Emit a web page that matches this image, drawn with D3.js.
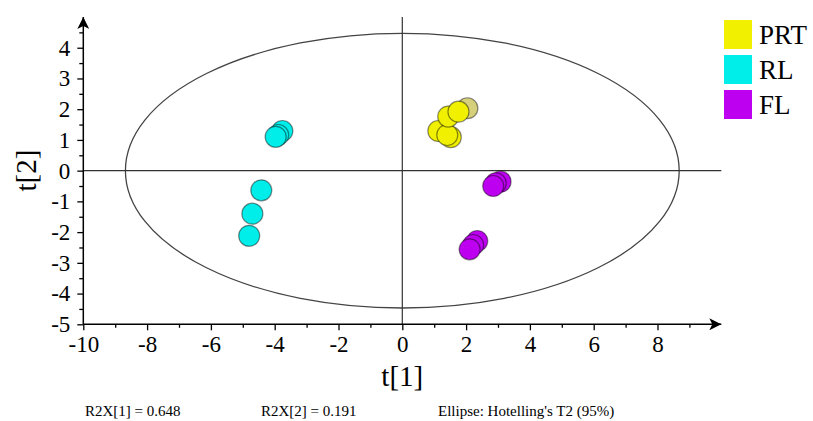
<!DOCTYPE html>
<html>
<head>
<meta charset="utf-8">
<script src="https://cdn.jsdelivr.net/npm/d3@7/dist/d3.min.js"></script>
<style>
  html, body { margin: 0; padding: 0; background: #fff; }
  svg text { font-family: "Liberation Serif", "Times New Roman", Times, "DejaVu Serif", serif !important; }
</style>
</head>
<body>
<svg id="chart" width="813" height="421"></svg>
<script>
// ---- data ----
const seriesNames = ["PRT", "RL", "FL"];
const seriesColors = ["#f0f000", "#00eeea", "#bd00f0"];

const prtX = [1.52, 1.13, 1.41, 1.44, 1.76];
const prtY = [1.09, 1.29, 1.16, 1.76, 1.92];
const prtFadedX = [2.04];
const prtFadedY = [2.03];

const rlX = [-4.42, -4.70, -4.80, -3.76, -3.89, -3.97];
const rlY = [-0.64, -1.40, -2.12, 1.29, 1.16, 1.10];

const flX = [3.08, 2.93, 2.85, 2.35, 2.22, 2.11];
const flY = [-0.36, -0.41, -0.50, -2.29, -2.42, -2.56];

const xTicks = [-10, -8, -6, -4, -2, 0, 2, 4, 6, 8];
const xMinorTicks = [-9, -7, -5, -3, -1, 1, 3, 5, 7, 9];
const yTicks = [-5, -4, -3, -2, -1, 0, 1, 2, 3, 4];
const yMinorTicks = [-4.5, -3.5, -2.5, -1.5, -0.5, 0.5, 1.5, 2.5, 3.5, 4.5];

const ellipseRx = 8.68;   // Hotelling's T2 (95%) semi-axes
const ellipseRy = 4.47;

const footnotes = ["R2X[1] = 0.648", "R2X[2] = 0.191", "Ellipse: Hotelling's T2 (95%)"];

// ---- chart ----
const FONT = "'Liberation Serif', 'Times New Roman', Times, 'DejaVu Serif', serif";
const svg = d3.select("#chart");
const x = d3.scaleLinear().domain([-10, 10]).range([83.3, 721.3]);
const y = d3.scaleLinear().domain([-5, 5]).range([324.3, 17]);

// ellipse
svg.append("ellipse")
  .attr("cx", x(0)).attr("cy", y(0))
  .attr("rx", x(ellipseRx) - x(0))
  .attr("ry", y(0) - y(ellipseRy))
  .attr("fill", "none").attr("stroke", "#444").attr("stroke-width", 1.3);

// zero lines
svg.append("line").attr("x1", x(-10)).attr("x2", x(10)).attr("y1", y(0)).attr("y2", y(0))
  .attr("stroke", "#333").attr("stroke-width", 1.2);
svg.append("line").attr("x1", x(0)).attr("x2", x(0)).attr("y1", y(5)).attr("y2", y(-5))
  .attr("stroke", "#333").attr("stroke-width", 1.2);

// axes
const xAxis = svg.append("g").attr("transform", `translate(0,${y(-5)})`)
  .call(d3.axisBottom(x).tickValues(xTicks).tickSize(6).tickPadding(5).tickFormat(d3.format("d")));
const xMinor = svg.append("g").attr("transform", `translate(0,${y(-5)})`)
  .call(d3.axisBottom(x).tickValues(xMinorTicks).tickSize(3.5).tickFormat(""));
const yAxis = svg.append("g").attr("transform", `translate(${x(-10)},0)`)
  .call(d3.axisLeft(y).tickValues(yTicks).tickSize(6).tickPadding(7).tickFormat(d3.format("d")));
const yMinor = svg.append("g").attr("transform", `translate(${x(-10)},0)`)
  .call(d3.axisLeft(y).tickValues(yMinorTicks).tickSize(4).tickFormat(""));

[xAxis, xMinor, yAxis, yMinor].forEach(g => {
  g.attr("font-family", FONT).attr("font-size", 23);
  g.select(".domain").remove();
  g.selectAll("line").attr("stroke", "#000").attr("stroke-width", 1.3);
  g.selectAll("text").attr("fill", "#000");
});
xAxis.selectAll("text").text(d => d < 0 ? "-" + Math.abs(d) : d);
yAxis.selectAll("text").text(d => d < 0 ? "-" + Math.abs(d) : d);

// axis lines with arrows
svg.append("defs").append("marker")
  .attr("id", "arrow").attr("viewBox", "0 0 10 10").attr("refX", 10).attr("refY", 5)
  .attr("markerWidth", 15).attr("markerHeight", 12).attr("markerUnits", "userSpaceOnUse")
  .attr("orient", "auto")
  .append("path").attr("d", "M0,0 L10,5 L0,10 L2.5,5 Z").attr("fill", "#000");
svg.append("line").attr("x1", x(-10)).attr("x2", x(10)).attr("y1", y(-5)).attr("y2", y(-5))
  .attr("stroke", "#000").attr("stroke-width", 1.5).attr("marker-end", "url(#arrow)");
svg.append("line").attr("x1", x(-10)).attr("x2", x(-10)).attr("y1", y(-5)).attr("y2", y(5))
  .attr("stroke", "#000").attr("stroke-width", 1.5).attr("marker-end", "url(#arrow)");

// axis titles
svg.append("text").attr("x", x(0)).attr("y", 386).attr("text-anchor", "middle")
  .attr("font-family", FONT).attr("font-size", 29).text("t[1]");
svg.append("text").attr("transform", `translate(36,${y(0)}) rotate(-90)`).attr("text-anchor", "middle")
  .attr("font-family", FONT).attr("font-size", 29).text("t[2]");

// points
const r = 10.5;
function drawPoints(xs, ys, color) {
  svg.append("g").selectAll("circle").data(xs.map((v, i) => [v, ys[i]])).join("circle")
    .attr("cx", d => x(d[0])).attr("cy", d => y(d[1])).attr("r", r)
    .attr("fill", color).attr("stroke", "#000").attr("stroke-opacity", 0.45).attr("stroke-width", 1.2);
}
drawPoints(prtFadedX, prtFadedY, "#d6d07c");
drawPoints(prtX, prtY, seriesColors[0]);
drawPoints(rlX, rlY, seriesColors[1]);
drawPoints(flX, flY, seriesColors[2]);

// legend
const legend = svg.append("g").selectAll("g").data(seriesNames).join("g")
  .attr("transform", (d, i) => `translate(724,${20 + i * 35})`);
legend.append("rect").attr("width", 28).attr("height", 29)
  .attr("fill", (d, i) => seriesColors[i]);
legend.append("text").attr("x", 35).attr("y", 24)
  .attr("font-family", FONT).attr("font-size", 27).text(d => d);

// footnotes
const footX = [85, 261, 438];
svg.append("g").selectAll("text").data(footnotes).join("text")
  .attr("x", (d, i) => footX[i]).attr("y", 416)
  .attr("font-family", FONT).attr("font-size", 15).text(d => d);
</script>
</body>
</html>
